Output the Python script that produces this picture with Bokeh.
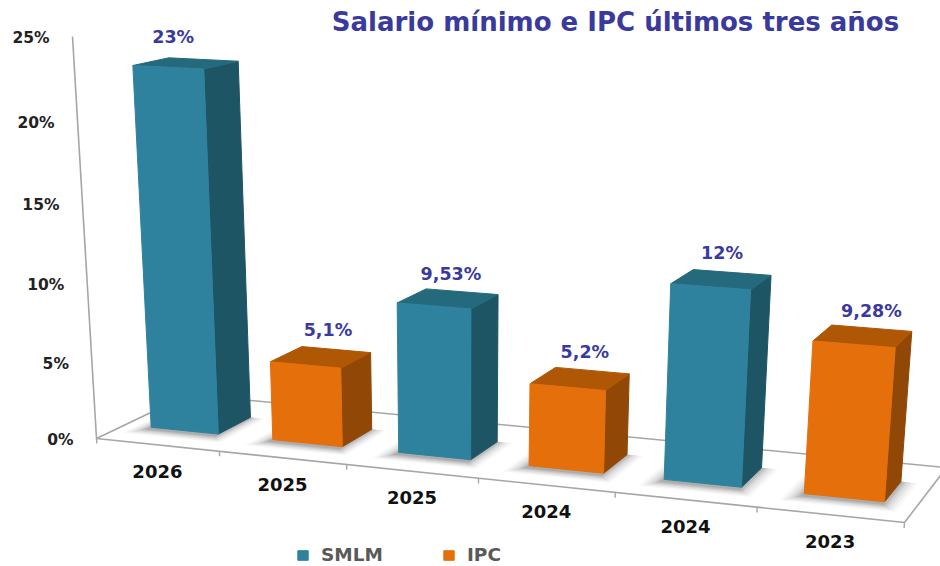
from bokeh.plotting import figure
from bokeh.models import ColumnDataSource, Legend, LegendItem
from bokeh.core.properties import value
from bokeh.embed import file_html
from bokeh.resources import INLINE

# ---- data ----
years = ["2026", "2025", "2025", "2024", "2024", "2023"]
series = ["SMLM", "IPC", "SMLM", "IPC", "SMLM", "IPC"]
values = [23, 5.1, 9.53, 5.2, 12, 9.28]
value_labels = ["23%", "5,1%", "9,53%", "5,2%", "12%", "9,28%"]
y_ticks = [0, 5, 10, 15, 20, 25]
y_tick_labels = ["0%", "5%", "10%", "15%", "20%", "25%"]
title = "Salario mínimo e IPC últimos tres años"

# ---- styles ----
FRONT = {"SMLM": "#2F829E", "IPC": "#E56F0B"}
SIDE = {"SMLM": "#1E5565", "IPC": "#914806"}
TOP = {"SMLM": "#246A7C", "IPC": "#AF5705"}
AXIS = "#A6A6A6"
BLUE = "#3A3A9E"
FONT = value("DejaVu Sans")

# ---- camera: (slot fraction u, depth d, value v) -> page position ----
A = (96.0, 438.0)
B = (904.0, 522.0)
D = (188.0, 394.0)
G, H, K = -0.1033, 0.0716, 0.00247
CV = (-1.138, -16.17)


def project(u, d, v):
    w = 1 + G * u + H * d - K * v
    x = A[0] + u * (B[0] * (1 + G) - A[0]) + d * (D[0] * (1 + H) - A[0]) + v * CV[0]
    y = A[1] + u * (B[1] * (1 + G) - A[1]) + d * (D[1] * (1 + H) - A[1]) + v * CV[1]
    return x / w, y / w


def poly(corners):
    pts = [project(*c) for c in corners]
    return [p[0] for p in pts], [p[1] for p in pts]


N = len(values)
U0, U1 = 0.216, 0.772
D0, D1 = 0.30, 0.67

p = figure(width=940, height=566, x_range=(0, 940), y_range=(566, 0),
           x_axis_type=None, y_axis_type=None, toolbar_location=None,
           output_backend="svg", min_border=0, outline_line_color=None,
           background_fill_color="white", border_fill_color="white",
           styles={"position": "absolute", "left": "0", "top": "0"})
p.grid.visible = False

# soft shadows on the floor
for du, dd, al in [(0.020, 0.15, 0.05), (0.016, 0.13, 0.08), (0.012, 0.11, 0.11),
                   (0.008, 0.09, 0.15), (0.005, 0.07, 0.20), (0.002, 0.05, 0.25)]:
    xs, ys = [], []
    for i in range(N):
        a, b = (i + U0) / N - du, (i + U1) / N + du
        x, y = poly([(a, D0 - dd, 0), (b, D0 - dd, 0), (b, D1, 0), (a, D1, 0)])
        xs.append(x)
        ys.append(y)
    p.patches(xs, ys, fill_color="#777777", fill_alpha=al, line_color=None)

# floor outline and value axis
for q0, q1 in [((0, 0, 0), (1, 0, 0)), ((0, 0, 0), (0, 1, 0)), ((0, 1, 0), (1, 1, 0)),
               ((1, 0, 0), (1, 1, 0)), ((0, 0, 0), (0, 0, y_ticks[-1]))]:
    x, y = poly([q0, q1])
    p.line(x, y, line_color=AXIS, line_width=1.6)
for i in range(N + 1):
    x, y = poly([(i / N, 0, 0), (i / N, 0, -0.33)])
    p.line(x, y, line_color=AXIS, line_width=1.4)

# bars
front_renderers = {}
for s in ["SMLM", "IPC"]:
    fx, fy, sx, sy, tx, ty = [], [], [], [], [], []
    for i in range(N):
        if series[i] != s:
            continue
        v = values[i]
        a, b = (i + U0) / N, (i + U1) / N
        x, y = poly([(a, D0, 0), (b, D0, 0), (b, D0, v), (a, D0, v)])
        fx.append(x); fy.append(y)
        x, y = poly([(b, D0, 0), (b, D1, 0), (b, D1, v), (b, D0, v)])
        sx.append(x); sy.append(y)
        x, y = poly([(a, D0, v), (b, D0, v), (b, D1, v), (a, D1, v)])
        tx.append(x); ty.append(y)
    p.patches(sx, sy, fill_color=SIDE[s], line_color=SIDE[s], line_width=1, line_join="round")
    p.patches(tx, ty, fill_color=TOP[s], line_color=TOP[s], line_width=1, line_join="round")
    front_renderers[s] = p.patches(fx, fy, fill_color=FRONT[s], line_color=FRONT[s],
                                   line_width=1, line_join="round")

# value-axis labels
pts = [project(0, 0, t) for t in y_ticks]
p.text([q[0] for q in pts], [q[1] for q in pts], text=y_tick_labels, x_offset=-23, y_offset=1.5,
       text_align="right", text_baseline="middle", text_font=FONT, text_font_style="bold",
       text_font_size="15.5px", text_color="#222222")

# category labels
pts = [project((i + 0.5) / N, 0, 0) for i in range(N)]
p.text([q[0] for q in pts], [q[1] for q in pts], text=years, y_offset=26.5,
       text_align="center", text_baseline="middle", text_font=FONT, text_font_style="bold",
       text_font_size="18px", text_color="#111111")

# value labels
label_dx = [-15, 5, 1, 3, -1, 7]
label_dy = [-26, -27, -24, -26, -26, -25]
pts = [project((i + 0.5) / N, 0.5, values[i]) for i in range(N)]
src = ColumnDataSource(dict(x=[q[0] for q in pts], y=[q[1] for q in pts], t=value_labels,
                            dx=label_dx, dy=label_dy))
p.text("x", "y", text="t", source=src, x_offset="dx", y_offset="dy",
       text_align="center", text_baseline="middle", text_font=FONT, text_font_style="bold",
       text_font_size="17.5px", text_color=BLUE)

# title
p.text([615], [21], text=[title], text_align="center", text_baseline="middle",
       text_font=FONT, text_font_style="bold", text_font_size="26px", text_color=BLUE)

# legend
legend = Legend(items=[LegendItem(label=s, renderers=[front_renderers[s]]) for s in ["SMLM", "IPC"]],
                orientation="horizontal", location=(296, 1), margin=0, padding=0,
                glyph_width=13, glyph_height=12, label_standoff=12, spacing=59,
                border_line_color=None, background_fill_alpha=0,
                label_text_font="DejaVu Sans", label_text_font_style="bold",
                label_text_font_size="18.5px", label_text_color="#595959")
p.add_layout(legend, "center")

open("out.html", "w").write(file_html(p, INLINE))
